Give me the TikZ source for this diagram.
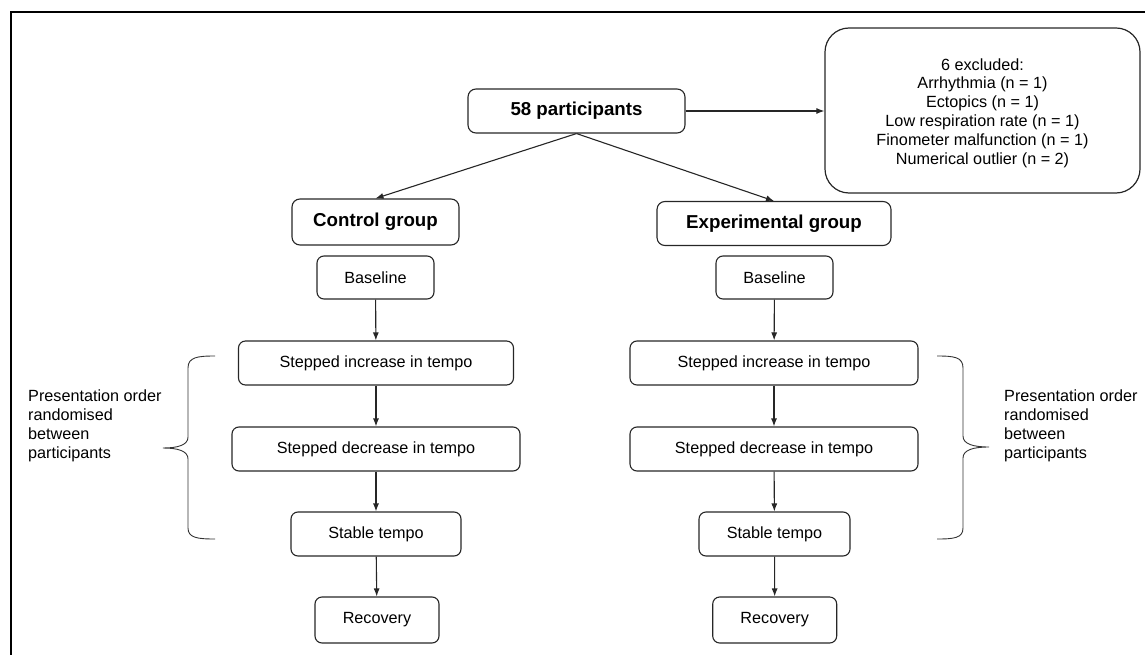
\documentclass[tikz,border=0pt]{standalone}
\usepackage{fontspec}
\setmainfont{Liberation Sans}
\usetikzlibrary{arrows.meta}
\begin{document}
\begin{tikzpicture}[x=1pt,y=-1pt,
  box/.style={draw=black!85,line width=1.1pt,rounded corners=7pt,inner sep=0pt,font=\fontsize{16.2}{19}\selectfont},
  bbox/.style={box,rounded corners=8pt,font=\fontsize{18.7}{22}\bfseries},
  arr/.style={draw=black!85,line width=1.1pt,-{Latex[length=8pt,width=6pt]}},
  brace/.style={draw=black!80,line width=0.9pt},
  note/.style={align=left,inner sep=0pt,anchor=west,font=\fontsize{16.2}{19}\selectfont}]
\useasboundingbox (0,0) rectangle (1145,655);
\draw[line width=2.4pt] (11,655) -- (11,12) -- (1145,12);

\node[bbox,minimum width=217pt,minimum height=44pt] (top) at (576.5,111) {58 participants};
\node[draw=black!85,line width=1.2pt,rounded corners=24pt,minimum width=315pt,minimum height=165pt] (excl) at (982.5,110.5) {};
\node[align=center,inner sep=0pt,font=\fontsize{16.2}{18.8}\selectfont] (excltext) at (982.5,113)
  {6 excluded:\\Arrhythmia (n = 1)\\Ectopics (n = 1)\\Low respiration rate (n = 1)\\Finometer malfunction (n = 1)\\Numerical outlier (n = 2)};

\node[bbox,minimum width=167pt,minimum height=46pt] (cg) at (375.5,222) {Control group};
\node[bbox,minimum width=234pt,minimum height=44pt] (eg) at (774,223.5) {Experimental group};

% left column
\node[box,minimum width=117pt,minimum height=43pt] (lb) at (375.5,277.5) {Baseline};
\node[box,minimum width=275pt,minimum height=44pt] (li) at (376,363) {Stepped increase in tempo};
\node[box,minimum width=288pt,minimum height=44pt] (ld) at (376,449) {Stepped decrease in tempo};
\node[box,minimum width=170pt,minimum height=44pt] (ls) at (376,534) {Stable tempo};
\node[box,minimum width=124pt,minimum height=46pt] (lr) at (377,620) {Recovery};

% right column
\node[box,minimum width=117pt,minimum height=43pt] (rb) at (774.5,277.5) {Baseline};
\node[box,minimum width=288pt,minimum height=44pt] (ri) at (774,363) {Stepped increase in tempo};
\node[box,minimum width=288pt,minimum height=44pt] (rd) at (774,449) {Stepped decrease in tempo};
\node[box,minimum width=151pt,minimum height=44pt] (rs) at (774.5,534) {Stable tempo};
\node[box,minimum width=124pt,minimum height=46pt] (rr) at (774.7,620) {Recovery};

% connectors
\draw[arr] (top.east) -- (excl.west |- top.east);
\draw[arr] (top.south) -- (cg.north);
\draw[arr] (top.south) -- (eg.north);
\draw[arr] (lb) -- (li);
\draw[arr] (li) -- (ld);
\draw[arr] (ld) -- (ls);
\draw[arr] (ls) -- (lr);
\draw[arr] (rb) -- (ri);
\draw[arr] (ri) -- (rd);
\draw[arr] (rd) -- (rs);
\draw[arr] (rs) -- (rr);

% braces
\draw[brace] (215,356) .. controls (198,356) and (188,357) .. (188,368) -- (188,437)
  .. controls (188,445) and (178,448) .. (163,448)
  .. controls (178,448) and (188,451) .. (188,459) -- (188,528)
  .. controls (188,538) and (198,539) .. (215,539);
\draw[brace] (937,356) .. controls (954,356) and (963,357) .. (963,368) -- (963,436)
  .. controls (963,444) and (973,447) .. (989,447)
  .. controls (973,447) and (963,450) .. (963,458) -- (963,528)
  .. controls (963,538) and (954,539) .. (937,539);

\node[note] (ln) at (28,426) {Presentation order\\randomised\\between\\participants};
\node[note] (rn) at (1004,426) {Presentation order\\randomised\\between\\participants};
\end{tikzpicture}
\end{document}
